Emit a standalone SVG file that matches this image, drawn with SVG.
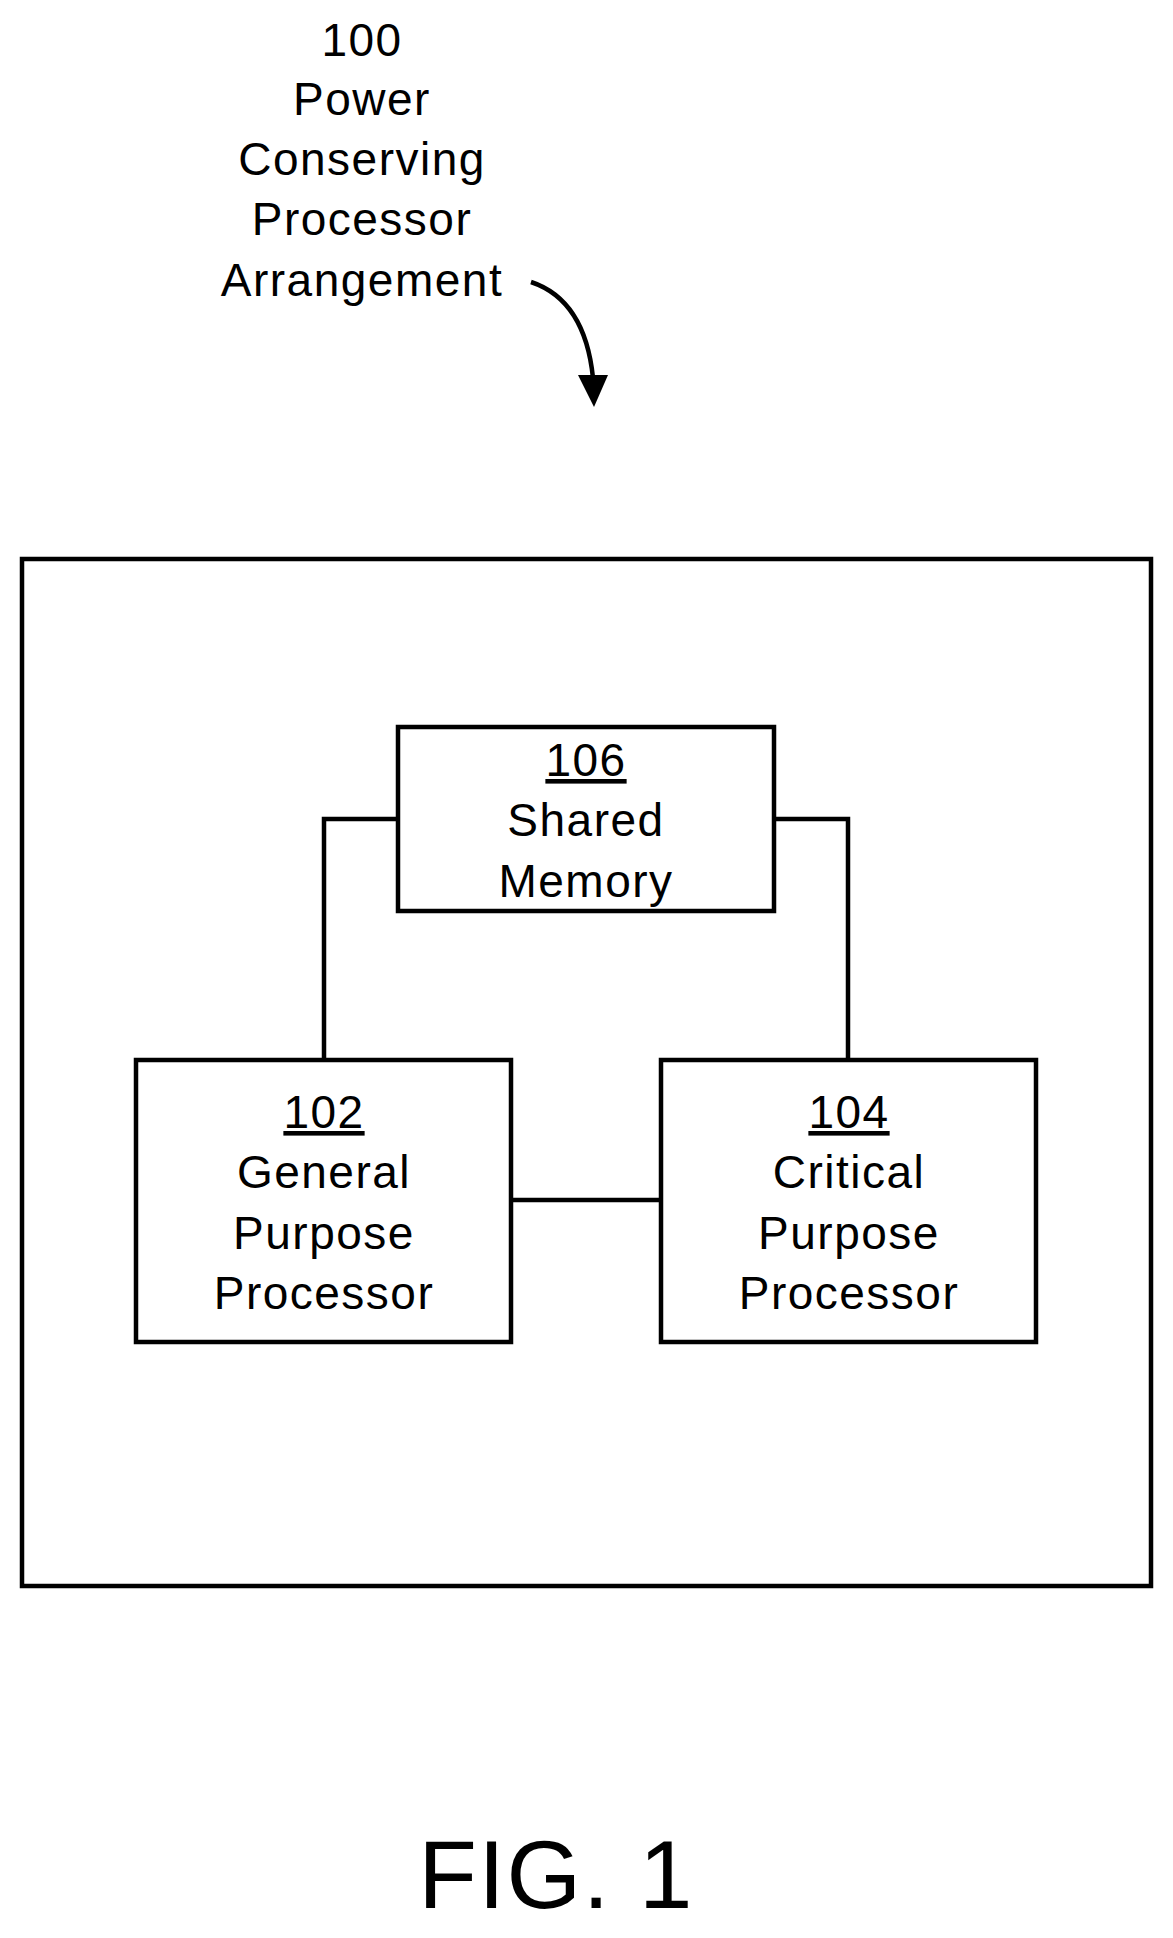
<svg xmlns="http://www.w3.org/2000/svg" width="1173" height="1938" viewBox="0 0 1173 1938">
<style>
text{font-family:"Liberation Sans",Arial,sans-serif;font-size:46px;letter-spacing:1.5px;text-anchor:middle;fill:#000}
.b{fill:#fff;stroke:#000;stroke-width:4.5}
.c{fill:none;stroke:#000;stroke-width:4.5}
</style>
<rect width="1173" height="1938" fill="#fff"/>
<g id="label100">
<text x="362" y="56">100</text>
<text x="362" y="115">Power</text>
<text x="362" y="175">Conserving</text>
<text x="362" y="235">Processor</text>
<text x="362" y="296">Arrangement</text>
</g>
<g id="outer"><rect class="b" x="22" y="559" width="1129" height="1027"/></g>
<g id="connectors">
<path class="c" d="M531,282 Q585,300 593,378"/>
<path d="M578,375 L608,375 L594,407 z"/>
<path class="c" d="M398,819 H324 V1060"/>
<path class="c" d="M774,819 H848 V1060"/>
<path class="c" d="M511,1200 H661"/>
</g>
<g id="n106"><rect class="b" x="398" y="727" width="376" height="184"/>
<text x="586" y="776" text-decoration="underline">106</text>
<text x="586" y="836">Shared</text>
<text x="586" y="897">Memory</text></g>
<g id="n102"><rect class="b" x="136" y="1060" width="375" height="282"/>
<text x="324" y="1128" text-decoration="underline">102</text>
<text x="324" y="1188">General</text>
<text x="324" y="1249">Purpose</text>
<text x="324" y="1309">Processor</text></g>
<g id="n104"><rect class="b" x="661" y="1060" width="375" height="282"/>
<text x="849" y="1128" text-decoration="underline">104</text>
<text x="849" y="1188">Critical</text>
<text x="849" y="1249">Purpose</text>
<text x="849" y="1309">Processor</text></g>
<text x="556" y="1908" style="font-size:96px">FIG. 1</text>
</svg>
